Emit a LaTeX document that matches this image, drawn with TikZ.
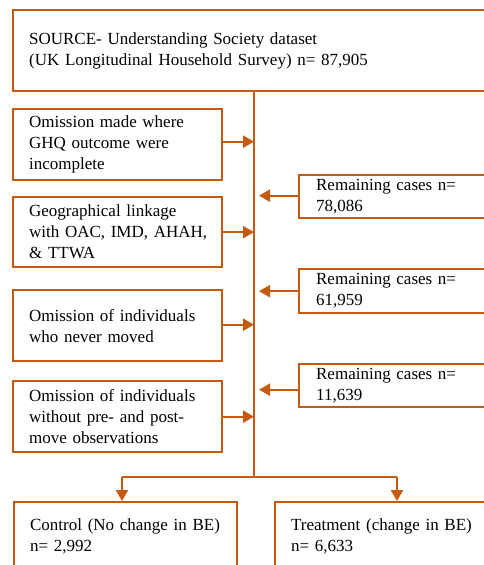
\documentclass[tikz,border=0pt]{standalone}
\usepackage{fontspec}
\setmainfont{Liberation Serif}
\usetikzlibrary{arrows.meta}
\definecolor{boxorange}{HTML}{C55A11}
\begin{document}
\begin{tikzpicture}[x=1pt,y=-1pt,
  box/.style={draw=boxorange, line width=2.3pt, anchor=north west, inner xsep=16pt, inner ysep=0pt,
    align=left, font=\fontsize{17}{21}\selectfont, text=black},
  arr/.style={draw=boxorange, line width=2.3pt, -{Triangle[length=11pt,width=12pt]}},
  link/.style={draw=boxorange, line width=2.3pt}]
\useasboundingbox (0,0) rectangle (484,565);
\clip (0,0) rectangle (484,565);
% top
\node[box, minimum width=500pt, minimum height=81pt, text width=468pt] (src) at (12,9)
  {SOURCE- Understanding Society dataset\\(UK Longitudinal Household Survey) n= 87,905};
% left boxes
\node[box, minimum width=209pt, minimum height=71pt, text width=177pt] (l1) at (12,108)
  {Omission made where\\GHQ outcome were\\incomplete};
\node[box, minimum width=209pt, minimum height=70pt, text width=177pt] (l2) at (12,196)
  {Geographical linkage\\\mbox{with OAC, IMD, AHAH,}\\\& TTWA};
\node[box, minimum width=209pt, minimum height=71pt, text width=177pt] (l3) at (12,289)
  {Omission of individuals\\who never moved};
\node[box, minimum width=209pt, minimum height=71pt, text width=177pt] (l4) at (12,380)
  {Omission of individuals\\without pre- and post-\\move observations};
% right boxes
\node[box, inner xsep=17pt, minimum width=210pt, minimum height=43pt, text width=176pt] (r1) at (298,174)
  {Remaining cases n=\\78,086};
\node[box, inner xsep=17pt, minimum width=210pt, minimum height=44pt, text width=176pt] (r2) at (298,268)
  {Remaining cases n=\\61,959};
\node[box, inner xsep=17pt, minimum width=210pt, minimum height=43pt, text width=176pt] (r3) at (298,363)
  {Remaining cases n=\\11,639};
% bottom boxes
\node[box, minimum width=223pt, minimum height=69pt, text width=191pt] (c) at (13,501)
  {Control (No change in BE)\\n= 2,992};
\node[box, minimum width=240pt, minimum height=69pt, text width=208pt] (t) at (274,501)
  {Treatment (change in BE)\\n= 6,633};
% trunk
\coordinate (tt) at (254,90);
\coordinate (jn) at (254,477);
\draw[link] (tt) -- (jn);
\draw[arr] ([yshift=3pt]l1.east) -- ([yshift=3pt]l1.east -| tt);
\draw[arr] (l2.east) -- (l2.east -| tt);
\draw[arr] ([yshift=1pt]l3.east) -- ([yshift=1pt]l3.east -| tt);
\draw[arr] (l4.east) -- (l4.east -| tt);
\draw[arr] ([yshift=1pt]r1.west) -- ([xshift=5pt,yshift=1pt]r1.west -| tt);
\draw[arr] (r2.west) -- ([xshift=5pt]r2.west -| tt);
\draw[arr] ([yshift=-4pt]r3.west) -- ([xshift=5pt,yshift=-4pt]r3.west -| tt);
% branch
\coordinate (bl) at (122,477);
\coordinate (br) at (397,477);
\draw[link] (bl) -- (br);
\draw[arr] (bl) -- (bl |- c.north);
\draw[arr] (br) -- (br |- t.north);
\end{tikzpicture}
\end{document}
